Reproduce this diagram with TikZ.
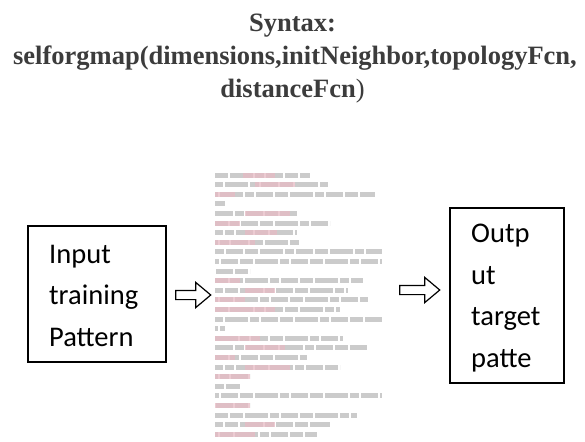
\documentclass[tikz,border=0pt]{standalone}
\usepackage{fontspec}
\setmainfont{Liberation Serif}
\newfontfamily\boxfont{Carlito}
\usepackage{xcolor}
\usetikzlibrary{shapes.arrows}

\definecolor{titlegray}{HTML}{3C3C3C}
\definecolor{codegray}{HTML}{CBCBCB}
\definecolor{codepink}{HTML}{E6BAC3}

\tikzset{
  title/.style={anchor=base, text=titlegray, font=\fontsize{26.5}{26.5}\selectfont\bfseries, inner sep=0pt},
  blockbox/.style={draw, line width=1.5pt, rectangle, inner sep=0pt},
  boxtext/.style={anchor=north west, align=left, inner sep=0pt, font=\boxfont\fontsize{28.5}{41.5}\selectfont},
  hollow/.style={draw, line width=1.2pt, single arrow, single arrow head extend=8pt,
    single arrow tip angle=80, inner sep=4pt, minimum height=35pt}
}

\begin{document}
\begin{tikzpicture}[x=1pt, y=-1pt]
    \useasboundingbox (0,0) rectangle (585,441);

    % Heading
    \node[title] (syn) at (292.5,32) {Syntax:};
    \node[title] (call) at (295,65) {selforgmap(dimensions,initNeighbor,topologyFcn,};
    \node[title] (call2) at (292.5,98) {distanceFcn{\mdseries)}};

    % Input box
    \node[blockbox, minimum width=138pt, minimum height=136pt] (inbox) at (97,294) {};
    \node[boxtext] (intext) at (49,245) {Input\\training\\Pattern};

    % Code listing in the middle (lines of the script)
    \coordinate (code) at (215,175);
    \foreach \w/\pa/\pb [count=\i from 0] in {
        95/28/60, 113/40/80, 160/0/20, 10/0/0, 82/30/75, 115/0/25, 82/30/62, 85/0/40,
        167/0/0, 167/0/0, 35/0/0, 148/0/25, 133/30/60, 153/0/30, 125/0/60, 167/0/0,
        10/0/0, 128/0/45, 152/30/70, 92/0/20, 125/30/75, 35/0/35, 25/0/0, 167/0/0,
        35/0/35, 142/0/0, 115/30/60, 102/0/40}
    {
        \draw[codegray, line width=5pt, dash pattern=on 13pt off 2pt on 23pt off 2pt on 9pt off 2pt on 17pt off 2pt,
              dash phase=5*\i pt]
            ([yshift=-9.6*\i]code) -- ++(\w,0);
        \ifnum\pb>0
            \draw[codepink, line width=5pt, opacity=0.75]
                ([xshift=\pa, yshift=-9.6*\i]code) -- ([xshift=\pb, yshift=-9.6*\i]code);
        \fi
    }

    % Output box
    \node[blockbox, minimum width=114pt, minimum height=175pt] (outbox) at (507,295.5) {};
    \node[boxtext] (outtext) at (471,224) {Outp\\ut\\target\\patte};

    % Block arrows
    \node[hollow] (toCode) at (190.5,295) {};
    \node[hollow, minimum height=40pt] (toOut) at (417,290) {};
\end{tikzpicture}
\end{document}
